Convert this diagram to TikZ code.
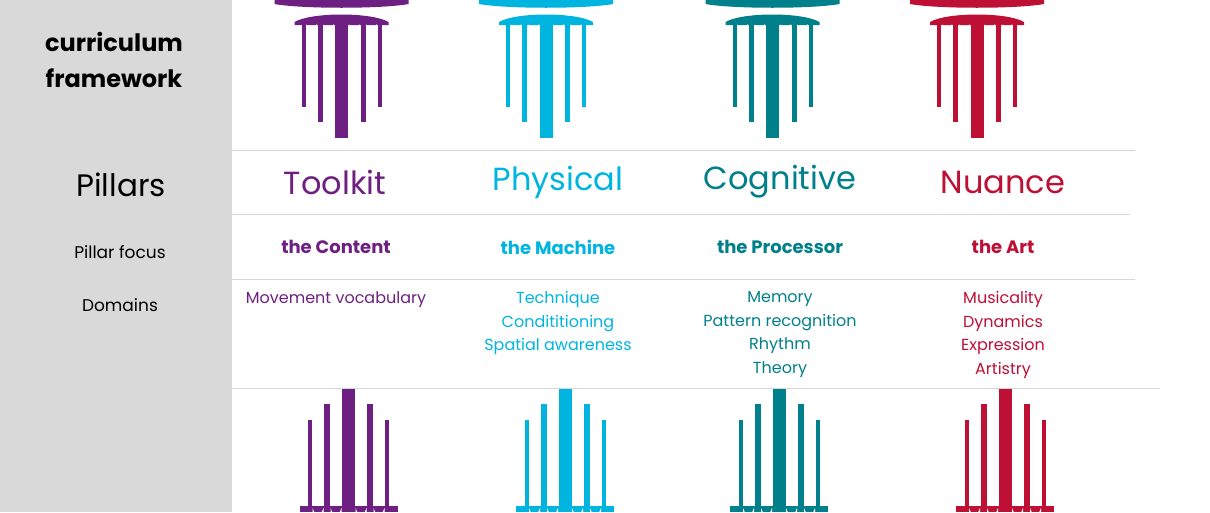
\documentclass[tikz,border=0pt]{standalone}
\usepackage{fontspec}
\setmainfont{Poppins}
\definecolor{cpur}{HTML}{6E2082}
\definecolor{ccy}{HTML}{00B4E0}
\definecolor{cteal}{HTML}{00808A}
\definecolor{cred}{HTML}{BE0F34}
\definecolor{panel}{HTML}{D9D9D9}
\definecolor{rule}{HTML}{D6D6D6}
\newcommand\toppil[2]{%
\begin{scope}[shift={(#1,0)},fill=#2]
\fill[#2] (-67,-2) -- (67,-2) -- (67,4) .. controls (40,9) and (-40,9) .. (-67,4) -- cycle;
\fill[#2] (-47,22) .. controls (-30,12) and (30,12) .. (47,22) -- (47,25) -- (-47,25) -- cycle;
\fill[#2] (-40,20) rectangle (-36,107);
\fill[#2] (-24,20) rectangle (-19,122);
\fill[#2] (-6.5,16) rectangle (6.5,138);
\fill[#2] (19,20) rectangle (24,122);
\fill[#2] (36,20) rectangle (40,107);
\foreach \g in {-30,-12.75,12.75,30}{\fill[white] (\g-5,27) -- (\g-5,24) arc[start angle=180,end angle=0,radius=5] -- (\g+5,27) -- cycle;}
\end{scope}}
\newcommand\botpil[2]{%
\begin{scope}[shift={(#1,0)}]
\fill[#2] (-40.5,420) rectangle (-36.5,512);
\fill[#2] (-24.5,404) rectangle (-18.5,512);
\fill[#2] (-6.5,389) rectangle (6.5,512);
\fill[#2] (18.5,404) rectangle (24.5,512);
\fill[#2] (36.5,420) rectangle (40.5,512);
\fill[#2] (-49,506) rectangle (49,512);
\foreach \g in {-30.5,-12.5,12.5,30.5}{\fill[white] (\g-5.5,513) -- (\g-5.5,508) arc[start angle=180,end angle=0,radius=5.5] -- (\g+5.5,513) -- cycle;}
\end{scope}}
\begin{document}
\begin{tikzpicture}[x=1pt,y=-1pt,
 ttl/.style={font=\fontsize{32}{36}\selectfont},
 foc/.style={font=\fontsize{18}{20}\selectfont\bfseries},
 dom/.style={font=\fontsize{16}{23.5}\selectfont,align=center,anchor=north},
 lab/.style={font=\fontsize{17}{20}\selectfont}]
\useasboundingbox (0,0) rectangle (1210,512);
\fill[panel] (0,0) rectangle (232,512);
\draw[rule] (232,150) -- (1135,150);
\draw[rule] (232,214) -- (1130,214);
\draw[rule] (232,279) -- (1135,279);
\draw[rule] (232,388) -- (1160,388);
\toppil{341.5}{cpur}\toppil{546}{ccy}\toppil{772.5}{cteal}\toppil{977}{cred}
\botpil{348.5}{cpur}\botpil{565}{ccy}\botpil{779}{cteal}\botpil{1005}{cred}
\node[align=center,font=\fontsize{24}{36}\selectfont\bfseries] (cf) at (114,60) {curriculum\\framework};
\node[font=\fontsize{31}{36}\selectfont] (pl) at (121,185) {Pillars};
\node[lab] (pf) at (120,252) {Pillar focus};
\node[lab] (dm) at (120,305) {Domains};
\node[ttl,text=cpur] (t1) at (335,182) {Toolkit};
\node[ttl,text=ccy] (t2) at (558,182) {Physical};
\node[ttl,text=cteal] (t3) at (780,182) {Cognitive};
\node[ttl,text=cred] (t4) at (1003,182) {Nuance};
\node[foc,text=cpur] (f1) at (336,247) {the Content};
\node[foc,text=ccy] (f2) at (558,247) {the Machine};
\node[foc,text=cteal] (f3) at (780,247) {the Processor};
\node[foc,text=cred] (f4) at (1003,247) {the Art};
\node[dom,text=cpur] (d1) at (336,288) {Movement vocabulary};
\node[dom,text=ccy] (d2) at (558,288) {Technique\\Condititioning\\Spatial awareness};
\node[dom,text=cteal] (d3) at (780,288) {Memory\\Pattern recognition\\Rhythm\\Theory};
\node[dom,text=cred] (d4) at (1003,288) {Musicality\\Dynamics\\Expression\\Artistry};
\end{tikzpicture}
\end{document}
